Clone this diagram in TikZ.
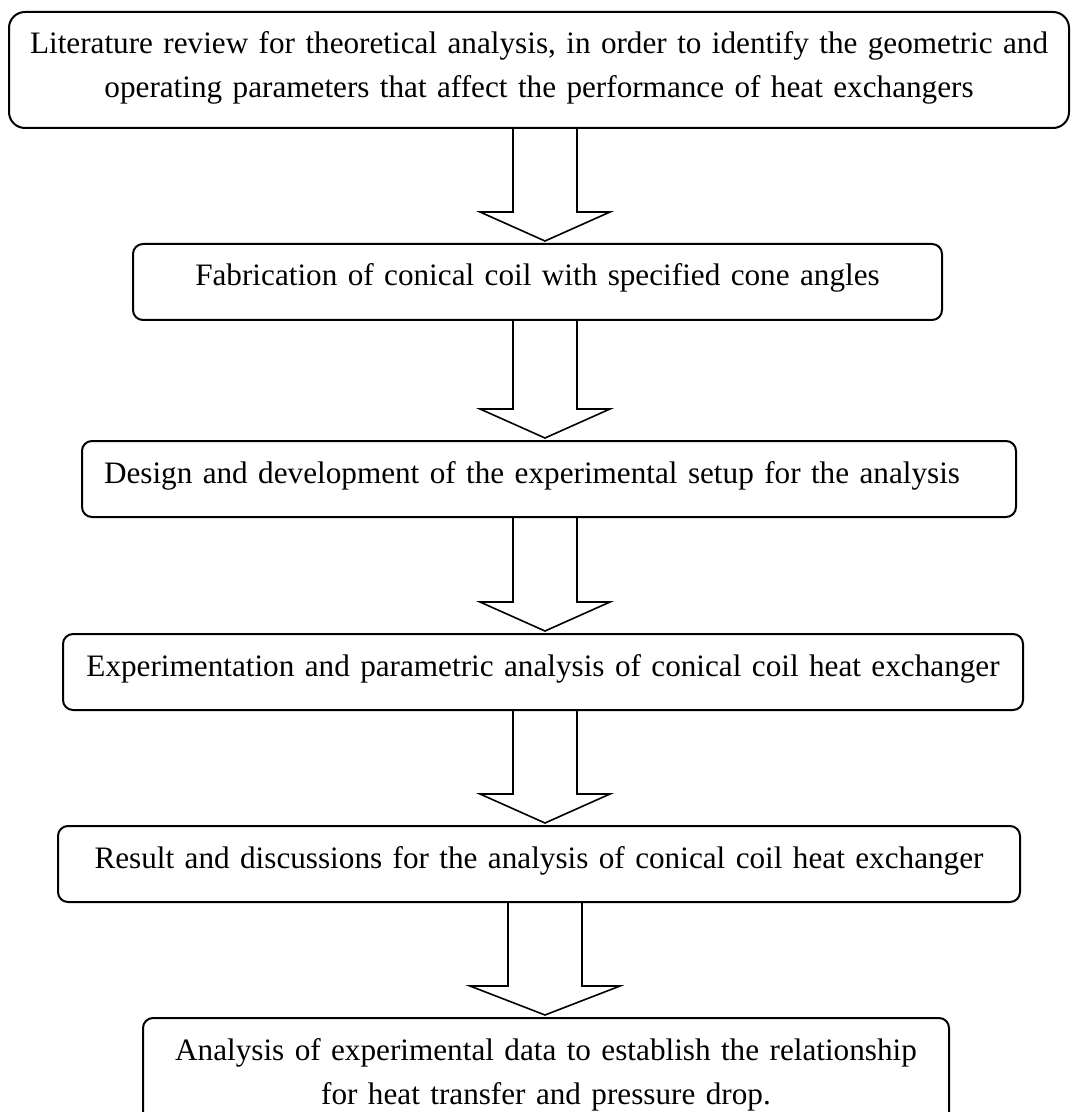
\documentclass[tikz,border=0pt]{standalone}
\usepackage{fontspec}
\setmainfont{Liberation Serif}
\usetikzlibrary{calc, positioning}

\tikzset{
    stage/.style={draw, line width=1pt, rounded corners=5pt, anchor=north west,
        inner xsep=4pt, inner ysep=0pt, text width=#1, align=center,
        text height=21pt, text depth=17pt, font=\fontsize{15.6pt}{22pt}\selectfont},
    blockarrow/.style={draw, line width=0.8pt, line join=miter}
}

\begin{document}
\begin{tikzpicture}[x=0.5pt, y=-0.5pt]
    \useasboundingbox (0,0) rectangle (1076,1112);
    % stages of the work
    \node[stage=522pt, rounded corners=8pt, text depth=37pt] (b1) at (8,11)
        {Literature review for theoretical analysis, in order to identify the geometric and\\
         operating parameters that affect the performance of heat exchangers};
    \node[stage=396.5pt] (b2) at (132,243) {Fabrication of conical coil with specified cone angles};
    \node[stage=445pt, inner xsep=11pt, align=left] (b3) at (81,440) {Design and development of the experimental setup for the analysis};
    \node[stage=472pt] (b4) at (62,633) {Experimentation and parametric analysis of conical coil heat exchanger};
    \node[stage=473pt] (b5) at (57,825) {Result and discussions for the analysis of conical coil heat exchanger};
    \node[stage=395pt, text depth=37pt] (b6) at (142,1017)
        {Analysis of experimental data to establish the relationship\\
         for heat transfer and pressure drop.};
    % block arrows between the stages
    \coordinate (axis) at (545,0);
    \foreach \a/\b/\s/\h in {b1/b2/32/65, b2/b3/32/65, b3/b4/32/65, b4/b5/32/65, b5/b6/37/75} {
        \draw[blockarrow] ($(\a.south -| axis)+(-\s,0)$) -- ($(\b.north -| axis)+(-\s,-31)$)
            -- ($(\b.north -| axis)+(-\h,-31)$) -- ($(\b.north -| axis)+(0,-2)$)
            -- ($(\b.north -| axis)+(\h,-31)$) -- ($(\b.north -| axis)+(\s,-31)$)
            -- ($(\a.south -| axis)+(\s,0)$);
    }
\end{tikzpicture}
\end{document}
